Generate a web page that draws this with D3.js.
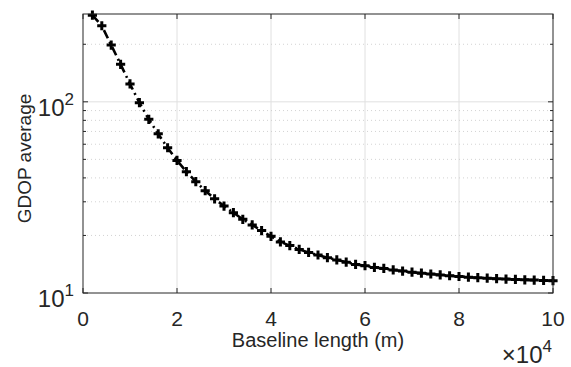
<!DOCTYPE html>
<html lang="en">
<head>
<meta charset="UTF-8">
<title>GDOP average</title>
<script src="https://d3js.org/d3.v7.min.js"></script>
<style>
  body { margin: 0; background: #fff; }
  text { font-family: "Liberation Sans", Arial, Helvetica, sans-serif; fill: #262626; }
</style>
</head>
<body>
<svg width="571" height="367"></svg>
<script>
// baseline length (m)
var baseline = [2000, 4000, 6000, 8000, 10000, 12000, 14000, 16000, 18000, 20000,
    22000, 24000, 26000, 28000, 30000, 32000, 34000, 36000, 38000, 40000,
    42000, 44000, 46000, 48000, 50000, 52000, 54000, 56000, 58000, 60000,
    62000, 64000, 66000, 68000, 70000, 72000, 74000, 76000, 78000, 80000,
    82000, 84000, 86000, 88000, 90000, 92000, 94000, 96000, 98000, 100000];
// GDOP average
var gdop = [284, 250, 198, 157, 124, 99, 81, 68, 57.5, 49.4,
    43.1, 38.2, 34.3, 31.1, 28.5, 26.3, 24.3, 22.7, 21.2, 19.8,
    18.5, 17.7, 16.9, 16.3, 15.8, 15.3, 14.9, 14.5, 14.1, 13.9,
    13.6, 13.45, 13.2, 13.03, 12.85, 12.7, 12.57, 12.43, 12.31, 12.2,
    12.1, 12.02, 11.95, 11.88, 11.82, 11.77, 11.72, 11.68, 11.64, 11.6];
var xTicks = [0, 20000, 40000, 60000, 80000, 100000];
var yMajor = [10, 100];
var yMinor = [20, 30, 40, 50, 60, 70, 80, 90, 200];

var svg = d3.select("svg"),
    margin = {top: 14, right: 18, bottom: 74, left: 83},
    width = +svg.attr("width") - margin.left - margin.right,
    height = +svg.attr("height") - margin.top - margin.bottom;

var x = d3.scaleLinear().domain([0, 100000]).range([0, width]);
var y = d3.scaleLog().domain([10, 288]).range([height, 0]);

var g = svg.append("g").attr("transform", "translate(" + margin.left + "," + margin.top + ")");

// grid
g.selectAll(".xgrid").data(xTicks.slice(1, -1)).enter().append("line")
    .attr("x1", x).attr("x2", x).attr("y1", 0).attr("y2", height)
    .attr("stroke", "#e0e0e0").attr("stroke-width", 1);
g.selectAll(".ygrid").data([100]).enter().append("line")
    .attr("x1", 0).attr("x2", width).attr("y1", y).attr("y2", y)
    .attr("stroke", "#e0e0e0").attr("stroke-width", 1);
g.selectAll(".yminor").data(yMinor).enter().append("line")
    .attr("x1", 0).attr("x2", width).attr("y1", y).attr("y2", y)
    .attr("stroke", "#c8c8c8").attr("stroke-width", 0.8)
    .attr("stroke-dasharray", "1,3");

// line + markers
var line = d3.line()
    .x(function(d, i) { return x(baseline[i]); })
    .y(function(d) { return y(d); });

g.append("path").datum(gdop)
    .attr("d", line)
    .attr("fill", "none")
    .attr("stroke", "#000")
    .attr("stroke-width", 2.6)
    .attr("stroke-dasharray", "9,4,2,4");

g.selectAll(".mk").data(gdop).enter().append("path")
    .attr("d", "M-4.6,0H4.6M0,-4.6V4.6")
    .attr("transform", function(d, i) { return "translate(" + x(baseline[i]) + "," + y(d) + ")"; })
    .attr("stroke", "#000")
    .attr("stroke-width", 3);

// axes box and ticks
var ax = "#262626";
g.append("rect").attr("width", width).attr("height", height)
    .attr("fill", "none").attr("stroke", ax).attr("stroke-width", 1);

xTicks.forEach(function(t) {
    g.append("line").attr("x1", x(t)).attr("x2", x(t)).attr("y1", height).attr("y2", height - 5).attr("stroke", ax);
    g.append("line").attr("x1", x(t)).attr("x2", x(t)).attr("y1", 0).attr("y2", 5).attr("stroke", ax);
    g.append("text").attr("x", x(t)).attr("y", height + 33)
        .attr("text-anchor", "middle").style("font-size", "21px")
        .text(t / 10000);
});
yMajor.concat(yMinor).forEach(function(t) {
    var len = yMajor.indexOf(t) >= 0 ? 5 : 3;
    g.append("line").attr("x1", 0).attr("x2", len).attr("y1", y(t)).attr("y2", y(t)).attr("stroke", ax);
    g.append("line").attr("x1", width).attr("x2", width - len).attr("y1", y(t)).attr("y2", y(t)).attr("stroke", ax);
});
yMajor.forEach(function(t) {
    var lbl = g.append("text").attr("x", -9).attr("y", y(t) + 14)
        .attr("text-anchor", "end").style("font-size", "24px");
    lbl.append("tspan").text("10");
    lbl.append("tspan").attr("dy", -11).style("font-size", "17px").text(Math.round(Math.log10(t)));
});

// labels
g.append("text").attr("x", width / 2).attr("y", height + 54)
    .attr("text-anchor", "middle").style("font-size", "20px")
    .text("Baseline length (m)");
var ex = g.append("text").attr("x", width - 1).attr("y", height + 70)
    .attr("text-anchor", "end").style("font-size", "24px");
ex.append("tspan").text("\u00d710");
ex.append("tspan").attr("dy", -11).style("font-size", "17px").text("4");

g.append("text")
    .attr("transform", "translate(" + (-52) + "," + (height / 2 + 5) + ") rotate(-90)")
    .attr("text-anchor", "middle").style("font-size", "19px")
    .text("GDOP average");
</script>
</body>
</html>
